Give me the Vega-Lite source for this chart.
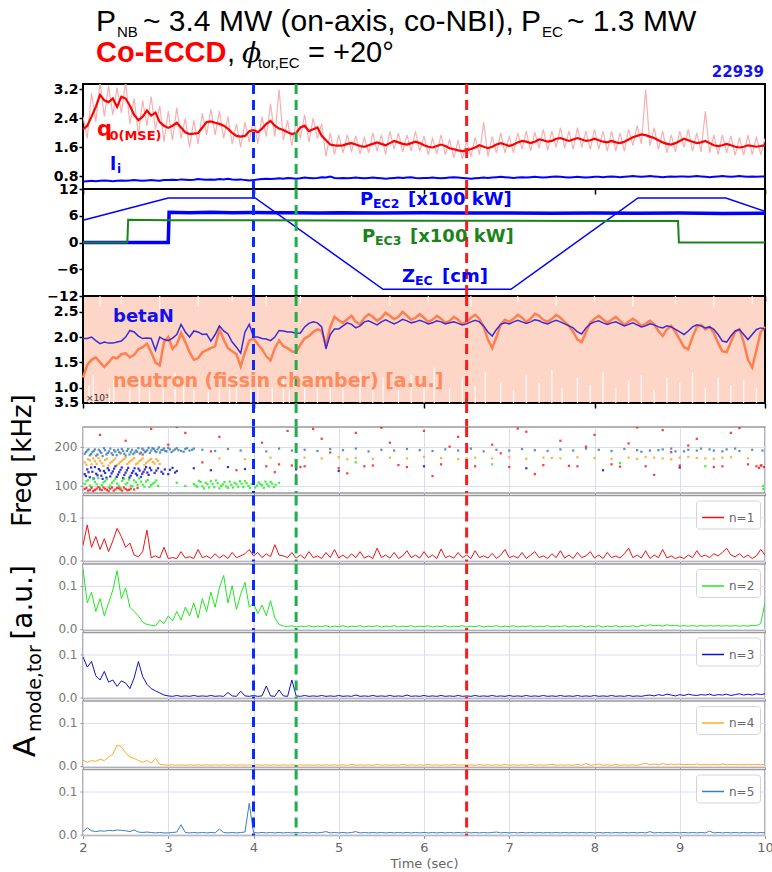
{
"$schema": "https://vega.github.io/schema/vega-lite/v6.json",
"background": "white",
"padding": {"left": 8, "right": 7, "top": 0, "bottom": 4},
"spacing": 0,
"bounds": "flush",
"config": {"font": "DejaVu Sans", "view": {"stroke": "#000", "strokeWidth": 2}, "axis": {"labelFlush": false, "labelOverlap": false, "tickCount": 20}},
"resolve": {"scale": {"x": "independent", "y": "independent", "color": "independent", "stroke": "independent"}, "legend": {"color": "independent"}},
"datasets": {
"vlines": [{"t":4.0,"c":"b"},{"t":4.5,"c":"g"},{"t":6.5,"c":"r"}],
"slow": [
{"t":2.00,"q":2.10,"r":2.45,"li":0.66,"bn":1.97,"ne":1.20},
{"t":2.05,"q":2.20,"r":1.85,"li":0.67,"bn":1.97,"ne":1.45},
{"t":2.10,"q":2.45,"r":3.10,"li":0.68,"bn":2.00,"ne":1.55},
{"t":2.15,"q":2.72,"r":2.30,"li":0.67,"bn":1.93,"ne":1.60},
{"t":2.20,"q":3.05,"r":3.40,"li":0.68,"bn":1.87,"ne":1.50},
{"t":2.25,"q":2.90,"r":2.45,"li":0.69,"bn":1.90,"ne":1.41},
{"t":2.30,"q":2.85,"r":3.30,"li":0.68,"bn":1.88,"ne":1.50},
{"t":2.35,"q":2.95,"r":2.50,"li":0.67,"bn":1.88,"ne":1.60},
{"t":2.40,"q":2.72,"r":3.25,"li":0.68,"bn":1.90,"ne":1.58},
{"t":2.45,"q":3.00,"r":2.55,"li":0.69,"bn":1.92,"ne":1.66},
{"t":2.50,"q":2.95,"r":3.40,"li":0.68,"bn":2.00,"ne":1.68},
{"t":2.55,"q":2.75,"r":2.25,"li":0.69,"bn":2.13,"ne":1.60},
{"t":2.60,"q":2.50,"r":2.95,"li":0.70,"bn":2.10,"ne":1.65},
{"t":2.65,"q":2.35,"r":1.95,"li":0.69,"bn":2.02,"ne":1.76},
{"t":2.70,"q":2.45,"r":2.90,"li":0.68,"bn":1.97,"ne":1.80},
{"t":2.75,"q":2.62,"r":2.20,"li":0.69,"bn":1.98,"ne":1.87},
{"t":2.80,"q":2.48,"r":3.00,"li":0.70,"bn":1.97,"ne":1.70},
{"t":2.85,"q":2.56,"r":2.10,"li":0.69,"bn":1.74,"ne":1.50},
{"t":2.90,"q":2.30,"r":2.75,"li":0.68,"bn":2.00,"ne":1.44},
{"t":2.95,"q":2.20,"r":1.75,"li":0.70,"bn":1.95,"ne":1.90},
{"t":3.00,"q":2.14,"r":2.60,"li":0.70,"bn":1.93,"ne":2.00},
{"t":3.05,"q":2.20,"r":1.80,"li":0.71,"bn":1.98,"ne":1.77},
{"t":3.10,"q":2.28,"r":2.70,"li":0.70,"bn":2.05,"ne":1.85},
{"t":3.15,"q":2.15,"r":1.85,"li":0.72,"bn":2.25,"ne":2.08},
{"t":3.20,"q":2.02,"r":2.40,"li":0.71,"bn":2.10,"ne":1.90},
{"t":3.25,"q":1.97,"r":1.60,"li":0.70,"bn":2.00,"ne":1.70},
{"t":3.30,"q":1.98,"r":2.35,"li":0.71,"bn":2.12,"ne":1.55},
{"t":3.35,"q":2.00,"r":1.70,"li":0.73,"bn":2.10,"ne":1.58},
{"t":3.40,"q":2.15,"r":2.55,"li":0.72,"bn":2.05,"ne":1.70},
{"t":3.45,"q":2.30,"r":1.95,"li":0.71,"bn":2.06,"ne":1.74},
{"t":3.50,"q":2.32,"r":2.65,"li":0.72,"bn":1.92,"ne":1.78},
{"t":3.55,"q":2.28,"r":1.95,"li":0.71,"bn":2.05,"ne":1.82},
{"t":3.60,"q":2.25,"r":2.60,"li":0.73,"bn":2.22,"ne":2.15},
{"t":3.65,"q":2.20,"r":1.85,"li":0.72,"bn":2.12,"ne":1.95},
{"t":3.70,"q":2.12,"r":2.45,"li":0.74,"bn":2.06,"ne":1.78},
{"t":3.75,"q":2.00,"r":1.70,"li":0.72,"bn":1.90,"ne":1.72},
{"t":3.80,"q":1.92,"r":2.25,"li":0.71,"bn":1.80,"ne":1.66},
{"t":3.85,"q":1.90,"r":1.60,"li":0.72,"bn":1.68,"ne":1.42},
{"t":3.90,"q":1.92,"r":2.30,"li":0.70,"bn":2.10,"ne":1.70},
{"t":3.95,"q":2.05,"r":1.75,"li":0.69,"bn":2.25,"ne":1.93},
{"t":4.00,"q":2.08,"r":2.40,"li":0.70,"bn":2.00,"ne":1.97},
{"t":4.05,"q":2.02,"r":1.70,"li":0.72,"bn":2.00,"ne":1.86},
{"t":4.10,"q":2.12,"r":2.45,"li":0.73,"bn":1.97,"ne":1.76},
{"t":4.15,"q":2.25,"r":1.90,"li":0.74,"bn":1.96,"ne":1.62},
{"t":4.20,"q":2.33,"r":2.80,"li":0.73,"bn":1.93,"ne":1.54},
{"t":4.25,"q":2.20,"r":1.90,"li":0.74,"bn":2.00,"ne":1.78},
{"t":4.30,"q":2.12,"r":3.20,"li":0.75,"bn":2.13,"ne":1.93},
{"t":4.35,"q":2.08,"r":1.80,"li":0.74,"bn":2.12,"ne":1.82},
{"t":4.40,"q":2.02,"r":2.35,"li":0.76,"bn":2.10,"ne":1.78},
{"t":4.45,"q":1.97,"r":1.65,"li":0.75,"bn":2.10,"ne":1.72},
{"t":4.50,"q":2.00,"r":2.30,"li":0.74,"bn":2.07,"ne":1.70},
{"t":4.55,"q":2.15,"r":1.85,"li":0.75,"bn":2.08,"ne":1.85},
{"t":4.60,"q":2.20,"r":2.50,"li":0.77,"bn":2.20,"ne":1.97},
{"t":4.65,"q":2.05,"r":1.75,"li":0.76,"bn":2.27,"ne":2.02},
{"t":4.70,"q":2.10,"r":2.40,"li":0.75,"bn":2.30,"ne":2.10},
{"t":4.75,"q":2.15,"r":1.85,"li":0.76,"bn":2.28,"ne":2.15},
{"t":4.80,"q":1.92,"r":2.25,"li":0.78,"bn":2.20,"ne":2.12},
{"t":4.85,"q":1.80,"r":1.35,"li":0.77,"bn":1.77,"ne":1.83},
{"t":4.90,"q":1.68,"r":2.00,"li":0.80,"bn":2.05,"ne":2.20},
{"t":4.95,"q":1.66,"r":1.40,"li":0.76,"bn":2.16,"ne":2.40},
{"t":5.00,"q":1.65,"r":1.95,"li":0.75,"bn":2.16,"ne":2.33},
{"t":5.05,"q":1.66,"r":1.45,"li":0.76,"bn":2.22,"ne":2.28},
{"t":5.10,"q":1.70,"r":1.95,"li":0.75,"bn":2.28,"ne":2.35},
{"t":5.15,"q":1.72,"r":1.50,"li":0.76,"bn":2.25,"ne":2.42},
{"t":5.20,"q":1.68,"r":1.92,"li":0.77,"bn":2.18,"ne":2.30},
{"t":5.25,"q":1.64,"r":1.42,"li":0.76,"bn":2.22,"ne":2.25},
{"t":5.30,"q":1.62,"r":1.88,"li":0.75,"bn":2.30,"ne":2.38},
{"t":5.35,"q":1.66,"r":1.45,"li":0.76,"bn":2.32,"ne":2.45},
{"t":5.40,"q":1.70,"r":2.00,"li":0.77,"bn":2.28,"ne":2.40},
{"t":5.45,"q":1.74,"r":1.50,"li":0.76,"bn":2.24,"ne":2.32},
{"t":5.50,"q":1.70,"r":1.95,"li":0.75,"bn":2.30,"ne":2.38},
{"t":5.55,"q":1.66,"r":1.40,"li":0.74,"bn":2.34,"ne":2.48},
{"t":5.60,"q":1.72,"r":2.05,"li":0.75,"bn":2.30,"ne":2.42},
{"t":5.65,"q":1.78,"r":1.55,"li":0.76,"bn":2.26,"ne":2.35},
{"t":5.70,"q":1.74,"r":2.00,"li":0.77,"bn":2.30,"ne":2.40},
{"t":5.75,"q":1.70,"r":1.48,"li":0.76,"bn":2.35,"ne":2.50},
{"t":5.80,"q":1.68,"r":1.95,"li":0.77,"bn":2.32,"ne":2.42},
{"t":5.85,"q":1.72,"r":1.50,"li":0.78,"bn":2.28,"ne":2.34},
{"t":5.90,"q":1.76,"r":2.05,"li":0.76,"bn":2.30,"ne":2.38},
{"t":5.95,"q":1.72,"r":1.50,"li":0.75,"bn":2.33,"ne":2.45},
{"t":6.00,"q":1.66,"r":1.92,"li":0.76,"bn":2.30,"ne":2.38},
{"t":6.05,"q":1.62,"r":1.40,"li":0.76,"bn":2.26,"ne":2.30},
{"t":6.10,"q":1.60,"r":1.85,"li":0.77,"bn":2.28,"ne":2.34},
{"t":6.15,"q":1.64,"r":1.42,"li":0.76,"bn":2.32,"ne":2.42},
{"t":6.20,"q":1.68,"r":1.95,"li":0.75,"bn":2.30,"ne":2.36},
{"t":6.25,"q":1.64,"r":1.40,"li":0.76,"bn":2.26,"ne":2.28},
{"t":6.30,"q":1.58,"r":1.82,"li":0.77,"bn":2.28,"ne":2.32},
{"t":6.35,"q":1.55,"r":1.32,"li":0.78,"bn":2.30,"ne":2.40},
{"t":6.40,"q":1.52,"r":1.80,"li":0.77,"bn":2.27,"ne":2.34},
{"t":6.45,"q":1.50,"r":1.28,"li":0.76,"bn":2.24,"ne":2.26},
{"t":6.50,"q":1.52,"r":1.78,"li":0.75,"bn":2.26,"ne":2.30},
{"t":6.55,"q":1.56,"r":1.35,"li":0.74,"bn":2.30,"ne":2.38},
{"t":6.60,"q":1.60,"r":1.88,"li":0.75,"bn":2.33,"ne":2.44},
{"t":6.65,"q":1.66,"r":1.40,"li":0.76,"bn":2.30,"ne":2.36},
{"t":6.70,"q":1.62,"r":2.30,"li":0.77,"bn":2.22,"ne":2.20},
{"t":6.75,"q":1.58,"r":1.35,"li":0.76,"bn":2.10,"ne":1.95},
{"t":6.80,"q":1.62,"r":1.90,"li":0.77,"bn":2.02,"ne":1.78},
{"t":6.85,"q":1.68,"r":1.45,"li":0.78,"bn":2.15,"ne":2.00},
{"t":6.90,"q":1.72,"r":2.00,"li":0.79,"bn":2.25,"ne":2.25},
{"t":6.95,"q":1.68,"r":1.45,"li":0.78,"bn":2.28,"ne":2.34},
{"t":7.00,"q":1.64,"r":1.90,"li":0.77,"bn":2.26,"ne":2.30},
{"t":7.05,"q":1.68,"r":1.45,"li":0.76,"bn":2.30,"ne":2.36},
{"t":7.10,"q":1.74,"r":2.00,"li":0.77,"bn":2.33,"ne":2.44},
{"t":7.15,"q":1.78,"r":1.55,"li":0.78,"bn":2.30,"ne":2.38},
{"t":7.20,"q":1.76,"r":2.05,"li":0.77,"bn":2.27,"ne":2.30},
{"t":7.25,"q":1.72,"r":1.50,"li":0.78,"bn":2.30,"ne":2.36},
{"t":7.30,"q":1.76,"r":2.02,"li":0.79,"bn":2.34,"ne":2.46},
{"t":7.35,"q":1.82,"r":1.58,"li":0.78,"bn":2.32,"ne":2.42},
{"t":7.40,"q":1.80,"r":2.10,"li":0.77,"bn":2.28,"ne":2.34},
{"t":7.45,"q":1.76,"r":1.52,"li":0.78,"bn":2.26,"ne":2.30},
{"t":7.50,"q":1.78,"r":2.05,"li":0.79,"bn":2.30,"ne":2.36},
{"t":7.55,"q":1.84,"r":1.60,"li":0.80,"bn":2.33,"ne":2.44},
{"t":7.60,"q":1.86,"r":2.15,"li":0.79,"bn":2.30,"ne":2.38},
{"t":7.65,"q":1.82,"r":1.58,"li":0.78,"bn":2.26,"ne":2.30},
{"t":7.70,"q":1.78,"r":2.05,"li":0.77,"bn":2.22,"ne":2.22},
{"t":7.75,"q":1.82,"r":1.55,"li":0.78,"bn":2.18,"ne":2.10},
{"t":7.80,"q":1.86,"r":2.15,"li":0.79,"bn":2.10,"ne":1.95},
{"t":7.85,"q":1.82,"r":1.60,"li":0.78,"bn":2.06,"ne":1.90},
{"t":7.90,"q":1.78,"r":2.05,"li":0.77,"bn":2.18,"ne":2.10},
{"t":7.95,"q":1.80,"r":1.55,"li":0.78,"bn":2.26,"ne":2.28},
{"t":8.00,"q":1.84,"r":2.10,"li":0.79,"bn":2.30,"ne":2.36},
{"t":8.05,"q":1.80,"r":1.55,"li":0.79,"bn":2.32,"ne":2.42},
{"t":8.10,"q":1.76,"r":2.05,"li":0.78,"bn":2.28,"ne":2.35},
{"t":8.15,"q":1.74,"r":1.50,"li":0.79,"bn":2.25,"ne":2.28},
{"t":8.20,"q":1.78,"r":2.05,"li":0.80,"bn":2.28,"ne":2.34},
{"t":8.25,"q":1.74,"r":1.50,"li":0.79,"bn":2.30,"ne":2.40},
{"t":8.30,"q":1.72,"r":2.00,"li":0.78,"bn":2.26,"ne":2.32},
{"t":8.35,"q":1.76,"r":1.50,"li":0.79,"bn":2.22,"ne":2.24},
{"t":8.40,"q":1.82,"r":2.10,"li":0.80,"bn":2.25,"ne":2.30},
{"t":8.45,"q":1.88,"r":1.65,"li":0.81,"bn":2.28,"ne":2.36},
{"t":8.50,"q":1.92,"r":2.20,"li":0.80,"bn":2.24,"ne":2.30},
{"t":8.55,"q":1.96,"r":1.70,"li":0.79,"bn":2.20,"ne":2.22},
{"t":8.60,"q":1.94,"r":3.20,"li":0.80,"bn":2.22,"ne":2.26},
{"t":8.65,"q":1.90,"r":1.65,"li":0.81,"bn":2.26,"ne":2.32},
{"t":8.70,"q":1.86,"r":2.15,"li":0.80,"bn":2.24,"ne":2.25},
{"t":8.75,"q":1.80,"r":1.55,"li":0.79,"bn":2.20,"ne":2.12},
{"t":8.80,"q":1.74,"r":2.05,"li":0.78,"bn":2.18,"ne":2.02},
{"t":8.85,"q":1.70,"r":1.45,"li":0.79,"bn":2.22,"ne":2.15},
{"t":8.90,"q":1.68,"r":1.95,"li":0.80,"bn":2.20,"ne":2.22},
{"t":8.95,"q":1.72,"r":1.48,"li":0.79,"bn":2.15,"ne":2.10},
{"t":9.00,"q":1.78,"r":2.05,"li":0.80,"bn":2.10,"ne":1.95},
{"t":9.05,"q":1.84,"r":1.60,"li":0.80,"bn":2.05,"ne":1.80},
{"t":9.10,"q":1.80,"r":2.10,"li":0.79,"bn":2.12,"ne":1.76},
{"t":9.15,"q":1.76,"r":1.50,"li":0.80,"bn":2.20,"ne":2.00},
{"t":9.20,"q":1.72,"r":2.00,"li":0.81,"bn":2.24,"ne":2.20},
{"t":9.25,"q":1.74,"r":1.48,"li":0.80,"bn":2.22,"ne":2.24},
{"t":9.30,"q":1.78,"r":2.60,"li":0.79,"bn":2.18,"ne":2.15},
{"t":9.35,"q":1.72,"r":1.45,"li":0.78,"bn":2.20,"ne":2.20},
{"t":9.40,"q":1.66,"r":1.95,"li":0.79,"bn":2.15,"ne":2.08},
{"t":9.45,"q":1.64,"r":1.40,"li":0.80,"bn":2.05,"ne":1.88},
{"t":9.50,"q":1.66,"r":1.95,"li":0.81,"bn":1.92,"ne":1.72},
{"t":9.55,"q":1.70,"r":1.45,"li":0.80,"bn":1.90,"ne":1.70},
{"t":9.60,"q":1.66,"r":1.92,"li":0.79,"bn":2.02,"ne":1.90},
{"t":9.65,"q":1.62,"r":1.38,"li":0.80,"bn":2.12,"ne":2.10},
{"t":9.70,"q":1.60,"r":1.88,"li":0.81,"bn":2.15,"ne":2.15},
{"t":9.75,"q":1.62,"r":1.38,"li":0.80,"bn":2.05,"ne":1.90},
{"t":9.80,"q":1.66,"r":1.95,"li":0.79,"bn":1.95,"ne":1.55},
{"t":9.85,"q":1.64,"r":1.40,"li":0.80,"bn":2.05,"ne":1.40},
{"t":9.90,"q":1.62,"r":1.90,"li":0.79,"bn":2.15,"ne":1.75},
{"t":9.95,"q":1.64,"r":1.40,"li":0.80,"bn":2.18,"ne":2.10},
{"t":10.00,"q":1.66,"r":1.85,"li":0.80,"bn":2.16,"ne":2.20}
],
"zec": [{"t":2.0,"v":5.0},{"t":3.0,"v":10.0},{"t":4.02,"v":10.0},{"t":5.52,"v":-10.5},{"t":7.02,"v":-10.5},{"t":8.51,"v":10.0},{"t":9.54,"v":10.0},{"t":10.0,"v":7.0}],
"pec2": [{"t":2.0,"v":0},{"t":3.0,"v":0},{"t":3.01,"v":6.8},{"t":3.25,"v":6.7},{"t":3.5,"v":6.8},{"t":3.75,"v":6.7},{"t":4.0,"v":6.75},{"t":4.25,"v":6.65},{"t":4.5,"v":6.7},{"t":4.75,"v":6.6},{"t":5.0,"v":6.7},{"t":5.5,"v":6.6},{"t":6.0,"v":6.65},{"t":6.5,"v":6.6},{"t":7.0,"v":6.6},{"t":7.5,"v":6.55},{"t":8.0,"v":6.6},{"t":8.5,"v":6.55},{"t":9.0,"v":6.6},{"t":9.5,"v":6.5},{"t":10.0,"v":6.55}],
"pec3": [{"t":2.0,"v":0},{"t":2.52,"v":0},{"t":2.53,"v":5.1},{"t":3.0,"v":5.0},{"t":4.0,"v":5.0},{"t":5.0,"v":4.95},{"t":6.0,"v":4.9},{"t":7.0,"v":4.9},{"t":8.0,"v":4.85},{"t":8.98,"v":4.8},{"t":8.99,"v":0},{"t":10.0,"v":0}],
"gaps": [
{"t":2.07,"a":0.7,"b":1.05},{"t":2.12,"a":0.7,"b":1.25},{"t":2.31,"a":0.7,"b":1.0},{"t":2.36,"a":0.7,"b":1.15},{"t":2.55,"a":0.7,"b":0.95},{"t":2.66,"a":0.7,"b":1.2},{"t":2.78,"a":0.7,"b":1.1},{"t":2.94,"a":0.7,"b":1.0},{"t":3.08,"a":0.7,"b":1.3},{"t":3.18,"a":0.7,"b":1.05},{"t":3.3,"a":0.7,"b":0.95},{"t":3.47,"a":0.7,"b":1.2},{"t":3.6,"a":0.7,"b":1.0},{"t":3.72,"a":0.7,"b":1.1},{"t":3.8,"a":0.7,"b":1.25},{"t":3.97,"a":0.7,"b":1.0},{"t":4.05,"a":0.7,"b":1.15},{"t":4.22,"a":0.7,"b":1.0},{"t":4.35,"a":0.7,"b":1.2},{"t":4.42,"a":0.7,"b":0.95},{"t":4.6,"a":0.7,"b":1.1},{"t":4.75,"a":0.7,"b":1.3},{"t":4.9,"a":0.7,"b":1.0},{"t":5.05,"a":0.7,"b":1.15},{"t":5.25,"a":0.7,"b":1.3},{"t":5.4,"a":0.7,"b":1.05},{"t":5.52,"a":0.7,"b":1.2},{"t":5.7,"a":0.7,"b":0.95},{"t":5.85,"a":0.7,"b":1.25},{"t":6.0,"a":0.7,"b":1.1},{"t":6.12,"a":0.7,"b":1.4},{"t":6.3,"a":0.7,"b":1.0},{"t":6.45,"a":0.7,"b":1.2},{"t":6.6,"a":0.7,"b":1.05},{"t":6.72,"a":0.7,"b":1.3},{"t":6.9,"a":0.7,"b":1.1},{"t":7.05,"a":0.7,"b":0.95},{"t":7.2,"a":0.7,"b":1.25},{"t":7.35,"a":0.7,"b":1.1},{"t":7.5,"a":0.7,"b":1.35},{"t":7.62,"a":0.7,"b":1.0},{"t":7.8,"a":0.7,"b":1.2},{"t":7.95,"a":0.7,"b":1.05},{"t":8.1,"a":0.7,"b":1.3},{"t":8.25,"a":0.7,"b":1.0},{"t":8.4,"a":0.7,"b":1.15},{"t":8.55,"a":0.7,"b":1.25},{"t":8.7,"a":0.7,"b":0.95},{"t":8.85,"a":0.7,"b":1.2},{"t":9.0,"a":0.7,"b":1.1},{"t":9.15,"a":0.7,"b":1.3},{"t":9.3,"a":0.7,"b":1.0},{"t":9.45,"a":0.7,"b":1.2},{"t":9.6,"a":0.7,"b":1.05},{"t":9.75,"a":0.7,"b":1.15},{"t":9.9,"a":0.7,"b":1.0},
{"t":2.2,"a":2.6,"b":2.81},{"t":2.45,"a":2.65,"b":2.81},{"t":2.9,"a":2.55,"b":2.81},{"t":3.35,"a":2.6,"b":2.81},{"t":3.75,"a":2.7,"b":2.81},{"t":4.15,"a":2.6,"b":2.81},{"t":4.55,"a":2.65,"b":2.81},{"t":5.15,"a":2.7,"b":2.81},{"t":5.6,"a":2.62,"b":2.81},{"t":6.05,"a":2.7,"b":2.81},{"t":6.55,"a":2.6,"b":2.81},{"t":7.1,"a":2.68,"b":2.81},{"t":7.55,"a":2.62,"b":2.81},{"t":8.0,"a":2.7,"b":2.81},{"t":8.45,"a":2.6,"b":2.81},{"t":8.95,"a":2.66,"b":2.81},{"t":9.4,"a":2.58,"b":2.81},{"t":9.85,"a":2.65,"b":2.81}
],
"spec": [
{"t":2.02,"f":182,"m":5},{"t":2.05,"f":190,"m":5},{"t":2.08,"f":178,"m":5},{"t":2.11,"f":186,"m":5},{"t":2.14,"f":193,"m":5},{"t":2.17,"f":180,"m":5},{"t":2.20,"f":188,"m":5},{"t":2.23,"f":176,"m":5},{"t":2.26,"f":191,"m":5},{"t":2.29,"f":184,"m":5},{"t":2.32,"f":195,"m":5},{"t":2.35,"f":179,"m":5},{"t":2.38,"f":187,"m":5},{"t":2.41,"f":192,"m":5},{"t":2.44,"f":183,"m":5},{"t":2.47,"f":189,"m":5},{"t":2.50,"f":177,"m":5},{"t":2.53,"f":194,"m":5},{"t":2.56,"f":186,"m":5},{"t":2.59,"f":181,"m":5},{"t":2.62,"f":190,"m":5},{"t":2.65,"f":196,"m":5},{"t":2.68,"f":185,"m":5},{"t":2.71,"f":192,"m":5},{"t":2.74,"f":188,"m":5},{"t":2.77,"f":197,"m":5},{"t":2.80,"f":190,"m":5},{"t":2.83,"f":194,"m":5},{"t":2.86,"f":186,"m":5},{"t":2.89,"f":198,"m":5},{"t":2.92,"f":191,"m":5},{"t":2.95,"f":195,"m":5},{"t":2.98,"f":188,"m":5},{"t":3.02,"f":193,"m":5},{"t":3.06,"f":190,"m":5},{"t":3.10,"f":196,"m":5},{"t":3.15,"f":189,"m":5},{"t":3.20,"f":194,"m":5},{"t":3.25,"f":190,"m":5},{"t":3.30,"f":195,"m":5},
{"t":2.035,"f":186,"m":5},{"t":2.065,"f":193,"m":5},{"t":2.095,"f":181,"m":5},{"t":2.125,"f":189,"m":5},{"t":2.155,"f":177,"m":5},{"t":2.185,"f":192,"m":5},{"t":2.215,"f":184,"m":5},{"t":2.245,"f":196,"m":5},{"t":2.275,"f":180,"m":5},{"t":2.305,"f":188,"m":5},{"t":2.335,"f":183,"m":5},{"t":2.365,"f":191,"m":5},{"t":2.395,"f":178,"m":5},{"t":2.425,"f":186,"m":5},{"t":2.455,"f":194,"m":5},{"t":2.485,"f":182,"m":5},{"t":2.515,"f":189,"m":5},{"t":2.545,"f":180,"m":5},{"t":2.575,"f":192,"m":5},{"t":2.605,"f":185,"m":5},{"t":2.635,"f":187,"m":5},{"t":2.665,"f":182,"m":5},{"t":2.695,"f":195,"m":5},{"t":2.725,"f":186,"m":5},{"t":2.755,"f":191,"m":5},{"t":2.785,"f":184,"m":5},{"t":2.815,"f":196,"m":5},{"t":2.845,"f":189,"m":5},{"t":2.875,"f":193,"m":5},{"t":2.905,"f":185,"m":5},{"t":2.935,"f":192,"m":5},{"t":2.965,"f":189,"m":5},{"t":3.00,"f":197,"m":5},{"t":3.04,"f":186,"m":5},{"t":3.08,"f":193,"m":5},{"t":3.12,"f":191,"m":5},{"t":3.18,"f":187,"m":5},{"t":3.22,"f":196,"m":5},{"t":3.28,"f":192,"m":5},
{"t":3.40,"f":192,"m":5},{"t":3.55,"f":189,"m":5},{"t":3.70,"f":194,"m":5},{"t":3.85,"f":190,"m":5},{"t":4.00,"f":193,"m":5},{"t":4.15,"f":188,"m":5},{"t":4.30,"f":195,"m":5},{"t":4.45,"f":190,"m":5},{"t":4.60,"f":192,"m":5},{"t":4.75,"f":189,"m":5},{"t":4.90,"f":194,"m":5},{"t":5.05,"f":191,"m":5},{"t":5.20,"f":195,"m":5},{"t":5.35,"f":188,"m":5},{"t":5.50,"f":192,"m":5},{"t":5.65,"f":190,"m":5},{"t":5.80,"f":194,"m":5},{"t":5.95,"f":191,"m":5},{"t":6.10,"f":189,"m":5},{"t":6.25,"f":193,"m":5},{"t":6.40,"f":190,"m":5},{"t":6.55,"f":195,"m":5},{"t":6.70,"f":188,"m":5},{"t":6.85,"f":192,"m":5},{"t":7.00,"f":190,"m":5},{"t":7.15,"f":194,"m":5},{"t":7.30,"f":191,"m":5},{"t":7.45,"f":189,"m":5},{"t":7.60,"f":193,"m":5},{"t":7.75,"f":190,"m":5},{"t":7.90,"f":195,"m":5},{"t":8.05,"f":192,"m":5},{"t":8.20,"f":189,"m":5},{"t":8.35,"f":194,"m":5},{"t":8.50,"f":191,"m":5},{"t":8.65,"f":190,"m":5},{"t":8.80,"f":193,"m":5},{"t":8.95,"f":188,"m":5},{"t":9.10,"f":192,"m":5},{"t":9.25,"f":195,"m":5},{"t":9.40,"f":190,"m":5},{"t":9.55,"f":193,"m":5},{"t":9.70,"f":189,"m":5},{"t":9.85,"f":192,"m":5},{"t":9.97,"f":190,"m":5},{"t":8.55,"f":187,"m":5},{"t":8.75,"f":191,"m":5},{"t":8.90,"f":195,"m":5},{"t":9.05,"f":188,"m":5},{"t":9.20,"f":190,"m":5},{"t":9.35,"f":193,"m":5},{"t":9.50,"f":188,"m":5},{"t":9.65,"f":195,"m":5},
{"t":2.02,"f":160,"m":4},{"t":2.06,"f":168,"m":4},{"t":2.10,"f":155,"m":4},{"t":2.14,"f":163,"m":4},{"t":2.18,"f":171,"m":4},{"t":2.22,"f":158,"m":4},{"t":2.26,"f":166,"m":4},{"t":2.30,"f":152,"m":4},{"t":2.34,"f":162,"m":4},{"t":2.38,"f":170,"m":4},{"t":2.42,"f":157,"m":4},{"t":2.46,"f":165,"m":4},{"t":2.50,"f":172,"m":4},{"t":2.54,"f":160,"m":4},{"t":2.58,"f":167,"m":4},{"t":2.62,"f":155,"m":4},{"t":2.66,"f":163,"m":4},{"t":2.70,"f":170,"m":4},{"t":2.74,"f":158,"m":4},{"t":2.78,"f":166,"m":4},{"t":2.82,"f":161,"m":4},{"t":2.86,"f":168,"m":4},{"t":2.90,"f":156,"m":4},
{"t":2.04,"f":154,"m":4},{"t":2.08,"f":165,"m":4},{"t":2.12,"f":170,"m":4},{"t":2.16,"f":156,"m":4},{"t":2.20,"f":164,"m":4},{"t":2.24,"f":151,"m":4},{"t":2.28,"f":169,"m":4},{"t":2.32,"f":159,"m":4},{"t":2.36,"f":166,"m":4},{"t":2.40,"f":153,"m":4},{"t":2.44,"f":161,"m":4},{"t":2.48,"f":168,"m":4},{"t":2.52,"f":156,"m":4},{"t":2.56,"f":164,"m":4},{"t":2.60,"f":171,"m":4},{"t":2.64,"f":158,"m":4},{"t":2.68,"f":166,"m":4},{"t":2.72,"f":153,"m":4},{"t":2.76,"f":162,"m":4},{"t":2.80,"f":169,"m":4},{"t":2.84,"f":157,"m":4},{"t":2.88,"f":164,"m":4},
{"t":3.6,"f":170,"m":4},{"t":3.9,"f":168,"m":4},{"t":4.2,"f":172,"m":4},{"t":4.6,"f":172,"m":4},{"t":4.8,"f":170,"m":4},{"t":5.0,"f":173,"m":4},{"t":5.2,"f":171,"m":4},{"t":5.4,"f":169,"m":4},{"t":5.6,"f":172,"m":4},{"t":5.8,"f":170,"m":4},{"t":6.0,"f":174,"m":4},{"t":6.2,"f":171,"m":4},{"t":6.4,"f":168,"m":4},{"t":6.6,"f":172,"m":4},{"t":6.8,"f":170,"m":4},{"t":7.0,"f":173,"m":4},{"t":7.2,"f":169,"m":4},{"t":7.4,"f":172,"m":4},{"t":7.6,"f":170,"m":4},{"t":7.8,"f":173,"m":4},{"t":8.0,"f":171,"m":4},{"t":8.2,"f":169,"m":4},{"t":8.4,"f":172,"m":4},{"t":8.6,"f":174,"m":4},{"t":8.8,"f":170,"m":4},{"t":9.0,"f":172,"m":4},{"t":9.2,"f":171,"m":4},{"t":9.4,"f":169,"m":4},{"t":9.6,"f":173,"m":4},{"t":9.8,"f":170,"m":4},{"t":5.1,"f":168,"m":4},{"t":6.5,"f":170,"m":4},{"t":7.5,"f":171,"m":4},{"t":8.5,"f":169,"m":4},{"t":8.7,"f":172,"m":4},{"t":8.9,"f":168,"m":4},{"t":9.1,"f":174,"m":4},{"t":9.3,"f":170,"m":4},{"t":9.5,"f":172,"m":4},
{"t":2.02,"f":130,"m":3},{"t":2.05,"f":142,"m":3},{"t":2.08,"f":122,"m":3},{"t":2.11,"f":136,"m":3},{"t":2.14,"f":148,"m":3},{"t":2.17,"f":127,"m":3},{"t":2.20,"f":139,"m":3},{"t":2.23,"f":118,"m":3},{"t":2.26,"f":133,"m":3},{"t":2.29,"f":145,"m":3},{"t":2.32,"f":124,"m":3},{"t":2.35,"f":137,"m":3},{"t":2.38,"f":150,"m":3},{"t":2.41,"f":129,"m":3},{"t":2.44,"f":141,"m":3},{"t":2.47,"f":120,"m":3},{"t":2.50,"f":134,"m":3},{"t":2.53,"f":146,"m":3},{"t":2.56,"f":126,"m":3},{"t":2.59,"f":138,"m":3},{"t":2.62,"f":131,"m":3},{"t":2.65,"f":144,"m":3},{"t":2.68,"f":123,"m":3},{"t":2.71,"f":136,"m":3},{"t":2.74,"f":148,"m":3},{"t":2.77,"f":128,"m":3},{"t":2.80,"f":140,"m":3},{"t":2.84,"f":133,"m":3},{"t":2.88,"f":145,"m":3},{"t":2.92,"f":136,"m":3},{"t":2.96,"f":142,"m":3},{"t":3.00,"f":130,"m":3},{"t":3.05,"f":146,"m":3},{"t":3.10,"f":138,"m":3},
{"t":2.035,"f":125,"m":3},{"t":2.065,"f":135,"m":3},{"t":2.095,"f":147,"m":3},{"t":2.125,"f":119,"m":3},{"t":2.155,"f":131,"m":3},{"t":2.185,"f":143,"m":3},{"t":2.215,"f":126,"m":3},{"t":2.245,"f":138,"m":3},{"t":2.275,"f":121,"m":3},{"t":2.305,"f":140,"m":3},{"t":2.335,"f":132,"m":3},{"t":2.365,"f":144,"m":3},{"t":2.395,"f":123,"m":3},{"t":2.425,"f":135,"m":3},{"t":2.455,"f":147,"m":3},{"t":2.485,"f":128,"m":3},{"t":2.515,"f":140,"m":3},{"t":2.545,"f":121,"m":3},{"t":2.575,"f":133,"m":3},{"t":2.605,"f":145,"m":3},{"t":2.635,"f":127,"m":3},{"t":2.665,"f":139,"m":3},{"t":2.695,"f":131,"m":3},{"t":2.725,"f":142,"m":3},{"t":2.755,"f":134,"m":3},{"t":2.785,"f":146,"m":3},{"t":2.86,"f":139,"m":3},{"t":2.94,"f":131,"m":3},{"t":3.02,"f":141,"m":3},{"t":3.08,"f":134,"m":3},
{"t":3.3,"f":145,"m":3},{"t":3.5,"f":140,"m":3},{"t":3.7,"f":148,"m":3},{"t":3.9,"f":143,"m":3},{"t":4.5,"f":142,"m":3},{"t":5.0,"f":138,"m":3},{"t":6.0,"f":150,"m":3},{"t":7.2,"f":145,"m":3},{"t":8.1,"f":140,"m":3},{"t":9.0,"f":147,"m":3},
{"t":2.02,"f":105,"m":2},{"t":2.06,"f":115,"m":2},{"t":2.10,"f":98,"m":2},{"t":2.14,"f":110,"m":2},{"t":2.18,"f":120,"m":2},{"t":2.22,"f":102,"m":2},{"t":2.26,"f":112,"m":2},{"t":2.30,"f":96,"m":2},{"t":2.34,"f":108,"m":2},{"t":2.38,"f":118,"m":2},{"t":2.42,"f":100,"m":2},{"t":2.46,"f":113,"m":2},{"t":2.50,"f":104,"m":2},{"t":2.54,"f":116,"m":2},{"t":2.58,"f":99,"m":2},{"t":2.62,"f":109,"m":2},{"t":2.66,"f":119,"m":2},{"t":2.70,"f":103,"m":2},{"t":2.74,"f":111,"m":2},{"t":2.78,"f":97,"m":2},{"t":2.82,"f":106,"m":2},{"t":2.86,"f":114,"m":2},
{"t":2.04,"f":112,"m":2},{"t":2.08,"f":101,"m":2},{"t":2.12,"f":117,"m":2},{"t":2.16,"f":104,"m":2},{"t":2.20,"f":95,"m":2},{"t":2.24,"f":109,"m":2},{"t":2.28,"f":117,"m":2},{"t":2.32,"f":101,"m":2},{"t":2.36,"f":113,"m":2},{"t":2.40,"f":106,"m":2},{"t":2.44,"f":96,"m":2},{"t":2.48,"f":118,"m":2},{"t":2.52,"f":108,"m":2},{"t":2.56,"f":100,"m":2},{"t":2.60,"f":114,"m":2},{"t":2.64,"f":103,"m":2},{"t":2.68,"f":111,"m":2},{"t":2.72,"f":98,"m":2},{"t":2.76,"f":115,"m":2},{"t":2.80,"f":102,"m":2},{"t":2.84,"f":109,"m":2},{"t":2.88,"f":100,"m":2},
{"t":3.30,"f":105,"m":2},{"t":3.34,"f":98,"m":2},{"t":3.38,"f":110,"m":2},{"t":3.42,"f":94,"m":2},{"t":3.46,"f":104,"m":2},{"t":3.50,"f":112,"m":2},{"t":3.54,"f":97,"m":2},{"t":3.58,"f":107,"m":2},{"t":3.62,"f":100,"m":2},{"t":3.66,"f":110,"m":2},{"t":3.70,"f":95,"m":2},{"t":3.74,"f":103,"m":2},{"t":3.78,"f":108,"m":2},{"t":3.82,"f":98,"m":2},{"t":3.86,"f":106,"m":2},{"t":3.90,"f":112,"m":2},{"t":3.94,"f":100,"m":2},{"t":3.98,"f":105,"m":2},{"t":4.02,"f":96,"m":2},{"t":4.06,"f":109,"m":2},{"t":4.10,"f":102,"m":2},{"t":4.14,"f":111,"m":2},{"t":4.18,"f":99,"m":2},{"t":4.22,"f":106,"m":2},{"t":4.26,"f":103,"m":2},{"t":4.30,"f":108,"m":2},
{"t":3.32,"f":101,"m":2},{"t":3.36,"f":113,"m":2},{"t":3.40,"f":99,"m":2},{"t":3.44,"f":108,"m":2},{"t":3.48,"f":96,"m":2},{"t":3.52,"f":105,"m":2},{"t":3.56,"f":114,"m":2},{"t":3.60,"f":94,"m":2},{"t":3.64,"f":104,"m":2},{"t":3.68,"f":99,"m":2},{"t":3.72,"f":111,"m":2},{"t":3.76,"f":96,"m":2},{"t":3.80,"f":104,"m":2},{"t":3.84,"f":112,"m":2},{"t":3.88,"f":97,"m":2},{"t":3.92,"f":107,"m":2},{"t":3.96,"f":95,"m":2},{"t":4.00,"f":110,"m":2},{"t":4.04,"f":101,"m":2},{"t":4.08,"f":105,"m":2},{"t":4.12,"f":95,"m":2},{"t":4.16,"f":104,"m":2},{"t":4.20,"f":110,"m":2},{"t":4.24,"f":97,"m":2},
{"t":5.2,"f":160,"m":2},{"t":6.8,"f":155,"m":2},{"t":8.3,"f":158,"m":2},{"t":9.3,"f":150,"m":2},{"t":9.98,"f":92,"m":2},{"t":9.98,"f":100,"m":2},{"t":3.1,"f":108,"m":2},{"t":3.2,"f":100,"m":2},
{"t":2.02,"f":92,"m":1},{"t":2.06,"f":88,"m":1},{"t":2.10,"f":95,"m":1},{"t":2.14,"f":90,"m":1},{"t":2.18,"f":97,"m":1},{"t":2.22,"f":89,"m":1},{"t":2.26,"f":93,"m":1},{"t":2.30,"f":87,"m":1},{"t":2.34,"f":96,"m":1},{"t":2.38,"f":91,"m":1},{"t":2.42,"f":94,"m":1},{"t":2.46,"f":88,"m":1},{"t":2.50,"f":92,"m":1},{"t":2.54,"f":90,"m":1},{"t":2.04,"f":95,"m":1},{"t":2.08,"f":90,"m":1},{"t":2.12,"f":87,"m":1},{"t":2.16,"f":93,"m":1},{"t":2.20,"f":91,"m":1},{"t":2.24,"f":96,"m":1},{"t":2.28,"f":90,"m":1},{"t":2.32,"f":93,"m":1},{"t":2.36,"f":88,"m":1},{"t":2.40,"f":95,"m":1},{"t":2.44,"f":91,"m":1},{"t":2.48,"f":96,"m":1},{"t":2.52,"f":89,"m":1},{"t":2.56,"f":93,"m":1},{"t":2.60,"f":91,"m":1},{"t":2.64,"f":95,"m":1},
{"t":2.2,"f":230,"m":1},{"t":2.5,"f":215,"m":1},{"t":2.8,"f":245,"m":1},{"t":3.0,"f":205,"m":1},{"t":3.2,"f":235,"m":1},{"t":3.4,"f":160,"m":1},{"t":3.6,"f":225,"m":1},{"t":3.8,"f":140,"m":1},{"t":4.0,"f":150,"m":1},{"t":4.1,"f":210,"m":1},{"t":4.3,"f":155,"m":1},{"t":4.4,"f":240,"m":1},{"t":4.6,"f":150,"m":1},{"t":4.8,"f":220,"m":1},{"t":5.0,"f":145,"m":1},{"t":5.2,"f":235,"m":1},{"t":5.4,"f":152,"m":1},{"t":5.6,"f":210,"m":1},{"t":5.8,"f":148,"m":1},{"t":6.0,"f":240,"m":1},{"t":6.2,"f":155,"m":1},{"t":6.4,"f":225,"m":1},{"t":6.6,"f":150,"m":1},{"t":6.8,"f":205,"m":1},{"t":7.0,"f":148,"m":1},{"t":7.2,"f":238,"m":1},{"t":7.4,"f":153,"m":1},{"t":7.6,"f":215,"m":1},{"t":7.8,"f":150,"m":1},{"t":8.0,"f":230,"m":1},{"t":8.2,"f":155,"m":1},{"t":8.4,"f":208,"m":1},{"t":8.6,"f":150,"m":1},{"t":8.8,"f":242,"m":1},{"t":9.0,"f":152,"m":1},{"t":9.2,"f":220,"m":1},{"t":9.4,"f":148,"m":1},{"t":9.6,"f":235,"m":1},{"t":9.8,"f":155,"m":1},{"t":9.95,"f":152,"m":1},{"t":3.1,"f":250,"m":1},{"t":4.7,"f":245,"m":1},{"t":5.5,"f":248,"m":1},{"t":6.3,"f":200,"m":1},{"t":7.1,"f":246,"m":1},{"t":7.9,"f":200,"m":1},{"t":8.5,"f":249,"m":1},{"t":9.1,"f":203,"m":1},{"t":9.7,"f":247,"m":1},{"t":4.25,"f":135,"m":1},{"t":4.5,"f":128,"m":1},{"t":5.1,"f":132,"m":1},{"t":6.1,"f":125,"m":1},{"t":7.3,"f":130,"m":1},{"t":8.7,"f":128,"m":1},{"t":9.9,"f":150,"m":1},{"t":9.93,"f":146,"m":1},{"t":9.96,"f":152,"m":1},{"t":9.99,"f":148,"m":1},{"t":2.7,"f":180,"m":1},{"t":3.5,"f":188,"m":1},{"t":4.9,"f":185,"m":1},{"t":6.9,"f":183,"m":1},{"t":8.9,"f":186,"m":1},{"t":4.15,"f":150,"m":1},{"t":4.45,"f":152,"m":1},{"t":4.55,"f":148,"m":1},{"t":5.3,"f":150,"m":1},{"t":5.7,"f":153,"m":1},{"t":6.5,"f":149,"m":1},{"t":7.7,"f":151,"m":1},{"t":8.3,"f":149,"m":1},{"t":9.5,"f":150,"m":1}
],
"amp": [
{"t":2.00,"n=1":0.035,"n=2":0.140,"n=3":0.094,"n=4":0.013,"n=5":0.006},
{"t":2.05,"n=1":0.082,"n=2":0.060,"n=3":0.070,"n=4":0.008,"n=5":0.015},
{"t":2.10,"n=1":0.030,"n=2":0.085,"n=3":0.083,"n=4":0.012,"n=5":0.008},
{"t":2.15,"n=1":0.055,"n=2":0.040,"n=3":0.050,"n=4":0.010,"n=5":0.006},
{"t":2.20,"n=1":0.025,"n=2":0.070,"n=3":0.040,"n=4":0.015,"n=5":0.008},
{"t":2.25,"n=1":0.050,"n=2":0.030,"n=3":0.060,"n=4":0.012,"n=5":0.007},
{"t":2.30,"n=1":0.020,"n=2":0.060,"n=3":0.035,"n=4":0.020,"n=5":0.009},
{"t":2.35,"n=1":0.045,"n=2":0.090,"n=3":0.040,"n=4":0.027,"n=5":0.008},
{"t":2.40,"n=1":0.074,"n=2":0.135,"n=3":0.025,"n=4":0.048,"n=5":0.010},
{"t":2.45,"n=1":0.055,"n=2":0.070,"n=3":0.038,"n=4":0.044,"n=5":0.009},
{"t":2.50,"n=1":0.030,"n=2":0.095,"n=3":0.033,"n=4":0.030,"n=5":0.008},
{"t":2.55,"n=1":0.040,"n=2":0.050,"n=3":0.020,"n=4":0.020,"n=5":0.006},
{"t":2.60,"n=1":0.012,"n=2":0.040,"n=3":0.045,"n=4":0.017,"n=5":0.010},
{"t":2.65,"n=1":0.008,"n=2":0.030,"n=3":0.083,"n=4":0.012,"n=5":0.005},
{"t":2.70,"n=1":0.020,"n=2":0.015,"n=3":0.048,"n=4":0.008,"n=5":0.004},
{"t":2.75,"n=1":0.070,"n=2":0.010,"n=3":0.030,"n=4":0.012,"n=5":0.005},
{"t":2.80,"n=1":0.006,"n=2":0.008,"n=3":0.020,"n=4":0.006,"n=5":0.004},
{"t":2.85,"n=1":0.010,"n=2":0.006,"n=3":0.015,"n=4":0.017,"n=5":0.003},
{"t":2.90,"n=1":0.005,"n=2":0.020,"n=3":0.010,"n=4":0.003,"n=5":0.004},
{"t":2.95,"n=1":0.030,"n=2":0.012,"n=3":0.005,"n=4":0.002,"n=5":0.003},
{"t":3.00,"n=1":0.004,"n=2":0.030,"n=3":0.003,"n=4":0.001,"n=5":0.003},
{"t":3.05,"n=1":0.006,"n=2":0.018,"n=3":0.002,"n=4":0.002,"n=5":0.004},
{"t":3.10,"n=1":0.004,"n=2":0.040,"n=3":0.004,"n=4":0.001,"n=5":0.005},
{"t":3.15,"n=1":0.020,"n=2":0.020,"n=3":0.002,"n=4":0.002,"n=5":0.022},
{"t":3.20,"n=1":0.005,"n=2":0.050,"n=3":0.003,"n=4":0.001,"n=5":0.004},
{"t":3.25,"n=1":0.008,"n=2":0.030,"n=3":0.002,"n=4":0.002,"n=5":0.003},
{"t":3.30,"n=1":0.004,"n=2":0.060,"n=3":0.004,"n=4":0.001,"n=5":0.004},
{"t":3.35,"n=1":0.025,"n=2":0.025,"n=3":0.002,"n=4":0.002,"n=5":0.003},
{"t":3.40,"n=1":0.006,"n=2":0.070,"n=3":0.003,"n=4":0.001,"n=5":0.004},
{"t":3.45,"n=1":0.010,"n=2":0.040,"n=3":0.002,"n=4":0.002,"n=5":0.003},
{"t":3.50,"n=1":0.004,"n=2":0.085,"n=3":0.004,"n=4":0.001,"n=5":0.004},
{"t":3.55,"n=1":0.015,"n=2":0.050,"n=3":0.002,"n=4":0.002,"n=5":0.003},
{"t":3.60,"n=1":0.005,"n=2":0.095,"n=3":0.003,"n=4":0.001,"n=5":0.012},
{"t":3.65,"n=1":0.012,"n=2":0.124,"n=3":0.002,"n=4":0.002,"n=5":0.004},
{"t":3.70,"n=1":0.004,"n=2":0.060,"n=3":0.011,"n=4":0.001,"n=5":0.003},
{"t":3.75,"n=1":0.018,"n=2":0.100,"n=3":0.003,"n=4":0.002,"n=5":0.004},
{"t":3.80,"n=1":0.006,"n=2":0.045,"n=3":0.002,"n=4":0.001,"n=5":0.003},
{"t":3.85,"n=1":0.010,"n=2":0.080,"n=3":0.014,"n=4":0.002,"n=5":0.004},
{"t":3.90,"n=1":0.015,"n=2":0.108,"n=3":0.003,"n=4":0.001,"n=5":0.005},
{"t":3.95,"n=1":0.025,"n=2":0.050,"n=3":0.002,"n=4":0.002,"n=5":0.072},
{"t":4.00,"n=1":0.010,"n=2":0.060,"n=3":0.004,"n=4":0.001,"n=5":0.004},
{"t":4.05,"n=1":0.018,"n=2":0.035,"n=3":0.002,"n=4":0.002,"n=5":0.003},
{"t":4.10,"n=1":0.006,"n=2":0.055,"n=3":0.003,"n=4":0.001,"n=5":0.004},
{"t":4.15,"n=1":0.015,"n=2":0.030,"n=3":0.026,"n=4":0.002,"n=5":0.003},
{"t":4.20,"n=1":0.008,"n=2":0.065,"n=3":0.003,"n=4":0.001,"n=5":0.004},
{"t":4.25,"n=1":0.036,"n=2":0.025,"n=3":0.002,"n=4":0.002,"n=5":0.003},
{"t":4.30,"n=1":0.012,"n=2":0.010,"n=3":0.017,"n=4":0.001,"n=5":0.004},
{"t":4.35,"n=1":0.010,"n=2":0.006,"n=3":0.003,"n=4":0.002,"n=5":0.003},
{"t":4.40,"n=1":0.006,"n=2":0.005,"n=3":0.002,"n=4":0.001,"n=5":0.004},
{"t":4.45,"n=1":0.018,"n=2":0.007,"n=3":0.040,"n=4":0.002,"n=5":0.003},
{"t":4.50,"n=1":0.005,"n=2":0.004,"n=3":0.003,"n=4":0.001,"n=5":0.004},
{"t":4.55,"n=1":0.012,"n=2":0.006,"n=3":0.002,"n=4":0.002,"n=5":0.003},
{"t":4.60,"n=1":0.004,"n=2":0.005,"n=3":0.004,"n=4":0.001,"n=5":0.004},
{"t":4.65,"n=1":0.020,"n=2":0.007,"n=3":0.002,"n=4":0.002,"n=5":0.003},
{"t":4.70,"n=1":0.006,"n=2":0.004,"n=3":0.003,"n=4":0.001,"n=5":0.004},
{"t":4.75,"n=1":0.010,"n=2":0.006,"n=3":0.002,"n=4":0.002,"n=5":0.003},
{"t":4.80,"n=1":0.004,"n=2":0.005,"n=3":0.004,"n=4":0.001,"n=5":0.004},
{"t":4.85,"n=1":0.018,"n=2":0.007,"n=3":0.002,"n=4":0.002,"n=5":0.006},
{"t":4.90,"n=1":0.006,"n=2":0.004,"n=3":0.003,"n=4":0.001,"n=5":0.003},
{"t":4.95,"n=1":0.025,"n=2":0.006,"n=3":0.002,"n=4":0.002,"n=5":0.004},
{"t":5.00,"n=1":0.005,"n=2":0.005,"n=3":0.004,"n=4":0.001,"n=5":0.003},
{"t":5.05,"n=1":0.012,"n=2":0.007,"n=3":0.002,"n=4":0.002,"n=5":0.004},
{"t":5.10,"n=1":0.004,"n=2":0.004,"n=3":0.003,"n=4":0.001,"n=5":0.003},
{"t":5.15,"n=1":0.015,"n=2":0.006,"n=3":0.002,"n=4":0.003,"n=5":0.004},
{"t":5.20,"n=1":0.006,"n=2":0.005,"n=3":0.005,"n=4":0.001,"n=5":0.006},
{"t":5.25,"n=1":0.020,"n=2":0.007,"n=3":0.002,"n=4":0.002,"n=5":0.003},
{"t":5.30,"n=1":0.005,"n=2":0.004,"n=3":0.003,"n=4":0.001,"n=5":0.004},
{"t":5.35,"n=1":0.010,"n=2":0.006,"n=3":0.002,"n=4":0.002,"n=5":0.003},
{"t":5.40,"n=1":0.004,"n=2":0.005,"n=3":0.004,"n=4":0.001,"n=5":0.004},
{"t":5.45,"n=1":0.028,"n=2":0.007,"n=3":0.002,"n=4":0.003,"n=5":0.003},
{"t":5.50,"n=1":0.006,"n=2":0.004,"n=3":0.003,"n=4":0.001,"n=5":0.004},
{"t":5.55,"n=1":0.012,"n=2":0.006,"n=3":0.002,"n=4":0.002,"n=5":0.003},
{"t":5.60,"n=1":0.005,"n=2":0.005,"n=3":0.004,"n=4":0.001,"n=5":0.004},
{"t":5.65,"n=1":0.018,"n=2":0.007,"n=3":0.002,"n=4":0.002,"n=5":0.003},
{"t":5.70,"n=1":0.004,"n=2":0.004,"n=3":0.003,"n=4":0.001,"n=5":0.004},
{"t":5.75,"n=1":0.010,"n=2":0.006,"n=3":0.002,"n=4":0.003,"n=5":0.003},
{"t":5.80,"n=1":0.022,"n=2":0.005,"n=3":0.005,"n=4":0.001,"n=5":0.004},
{"t":5.85,"n=1":0.006,"n=2":0.007,"n=3":0.002,"n=4":0.002,"n=5":0.003},
{"t":5.90,"n=1":0.012,"n=2":0.004,"n=3":0.003,"n=4":0.001,"n=5":0.004},
{"t":5.95,"n=1":0.005,"n=2":0.006,"n=3":0.002,"n=4":0.002,"n=5":0.003},
{"t":6.00,"n=1":0.020,"n=2":0.005,"n=3":0.004,"n=4":0.001,"n=5":0.004},
{"t":6.05,"n=1":0.006,"n=2":0.007,"n=3":0.002,"n=4":0.003,"n=5":0.003},
{"t":6.10,"n=1":0.012,"n=2":0.004,"n=3":0.003,"n=4":0.001,"n=5":0.004},
{"t":6.15,"n=1":0.004,"n=2":0.006,"n=3":0.002,"n=4":0.002,"n=5":0.003},
{"t":6.20,"n=1":0.026,"n=2":0.005,"n=3":0.004,"n=4":0.001,"n=5":0.004},
{"t":6.25,"n=1":0.006,"n=2":0.007,"n=3":0.002,"n=4":0.002,"n=5":0.003},
{"t":6.30,"n=1":0.010,"n=2":0.004,"n=3":0.003,"n=4":0.001,"n=5":0.004},
{"t":6.35,"n=1":0.005,"n=2":0.006,"n=3":0.002,"n=4":0.003,"n=5":0.003},
{"t":6.40,"n=1":0.018,"n=2":0.005,"n=3":0.004,"n=4":0.001,"n=5":0.004},
{"t":6.45,"n=1":0.006,"n=2":0.007,"n=3":0.002,"n=4":0.002,"n=5":0.003},
{"t":6.50,"n=1":0.012,"n=2":0.004,"n=3":0.003,"n=4":0.001,"n=5":0.005},
{"t":6.55,"n=1":0.004,"n=2":0.006,"n=3":0.002,"n=4":0.002,"n=5":0.003},
{"t":6.60,"n=1":0.022,"n=2":0.005,"n=3":0.004,"n=4":0.001,"n=5":0.004},
{"t":6.65,"n=1":0.006,"n=2":0.007,"n=3":0.002,"n=4":0.003,"n=5":0.003},
{"t":6.70,"n=1":0.010,"n=2":0.004,"n=3":0.003,"n=4":0.001,"n=5":0.004},
{"t":6.75,"n=1":0.005,"n=2":0.006,"n=3":0.002,"n=4":0.002,"n=5":0.003},
{"t":6.80,"n=1":0.016,"n=2":0.005,"n=3":0.004,"n=4":0.001,"n=5":0.004},
{"t":6.85,"n=1":0.004,"n=2":0.007,"n=3":0.002,"n=4":0.002,"n=5":0.005},
{"t":6.90,"n=1":0.012,"n=2":0.004,"n=3":0.003,"n=4":0.001,"n=5":0.003},
{"t":6.95,"n=1":0.025,"n=2":0.006,"n=3":0.002,"n=4":0.003,"n=5":0.004},
{"t":7.00,"n=1":0.006,"n=2":0.005,"n=3":0.004,"n=4":0.001,"n=5":0.003},
{"t":7.05,"n=1":0.010,"n=2":0.007,"n=3":0.002,"n=4":0.002,"n=5":0.004},
{"t":7.10,"n=1":0.005,"n=2":0.004,"n=3":0.003,"n=4":0.001,"n=5":0.003},
{"t":7.15,"n=1":0.018,"n=2":0.006,"n=3":0.002,"n=4":0.002,"n=5":0.004},
{"t":7.20,"n=1":0.004,"n=2":0.005,"n=3":0.004,"n=4":0.001,"n=5":0.003},
{"t":7.25,"n=1":0.012,"n=2":0.007,"n=3":0.002,"n=4":0.003,"n=5":0.004},
{"t":7.30,"n=1":0.020,"n=2":0.004,"n=3":0.003,"n=4":0.001,"n=5":0.003},
{"t":7.35,"n=1":0.006,"n=2":0.006,"n=3":0.002,"n=4":0.002,"n=5":0.004},
{"t":7.40,"n=1":0.010,"n=2":0.005,"n=3":0.004,"n=4":0.001,"n=5":0.003},
{"t":7.45,"n=1":0.004,"n=2":0.007,"n=3":0.002,"n=4":0.002,"n=5":0.004},
{"t":7.50,"n=1":0.015,"n=2":0.004,"n=3":0.003,"n=4":0.003,"n=5":0.003},
{"t":7.55,"n=1":0.006,"n=2":0.006,"n=3":0.002,"n=4":0.001,"n=5":0.004},
{"t":7.60,"n=1":0.022,"n=2":0.005,"n=3":0.004,"n=4":0.002,"n=5":0.003},
{"t":7.65,"n=1":0.005,"n=2":0.007,"n=3":0.002,"n=4":0.001,"n=5":0.004},
{"t":7.70,"n=1":0.012,"n=2":0.004,"n=3":0.003,"n=4":0.002,"n=5":0.003},
{"t":7.75,"n=1":0.004,"n=2":0.006,"n=3":0.002,"n=4":0.001,"n=5":0.004},
{"t":7.80,"n=1":0.018,"n=2":0.005,"n=3":0.004,"n=4":0.003,"n=5":0.003},
{"t":7.85,"n=1":0.006,"n=2":0.007,"n=3":0.002,"n=4":0.001,"n=5":0.004},
{"t":7.90,"n=1":0.010,"n=2":0.004,"n=3":0.003,"n=4":0.005,"n=5":0.003},
{"t":7.95,"n=1":0.020,"n=2":0.006,"n=3":0.002,"n=4":0.001,"n=5":0.004},
{"t":8.00,"n=1":0.005,"n=2":0.005,"n=3":0.004,"n=4":0.002,"n=5":0.003},
{"t":8.05,"n=1":0.012,"n=2":0.007,"n=3":0.002,"n=4":0.004,"n=5":0.004},
{"t":8.10,"n=1":0.004,"n=2":0.004,"n=3":0.003,"n=4":0.001,"n=5":0.003},
{"t":8.15,"n=1":0.018,"n=2":0.006,"n=3":0.002,"n=4":0.002,"n=5":0.004},
{"t":8.20,"n=1":0.006,"n=2":0.005,"n=3":0.004,"n=4":0.001,"n=5":0.003},
{"t":8.25,"n=1":0.010,"n=2":0.007,"n=3":0.002,"n=4":0.003,"n=5":0.004},
{"t":8.30,"n=1":0.005,"n=2":0.004,"n=3":0.003,"n=4":0.001,"n=5":0.003},
{"t":8.35,"n=1":0.015,"n=2":0.006,"n=3":0.002,"n=4":0.002,"n=5":0.004},
{"t":8.40,"n=1":0.028,"n=2":0.005,"n=3":0.004,"n=4":0.001,"n=5":0.003},
{"t":8.45,"n=1":0.006,"n=2":0.007,"n=3":0.002,"n=4":0.002,"n=5":0.004},
{"t":8.50,"n=1":0.012,"n=2":0.004,"n=3":0.003,"n=4":0.001,"n=5":0.003},
{"t":8.55,"n=1":0.005,"n=2":0.008,"n=3":0.002,"n=4":0.003,"n=5":0.004},
{"t":8.60,"n=1":0.022,"n=2":0.006,"n=3":0.004,"n=4":0.006,"n=5":0.003},
{"t":8.65,"n=1":0.004,"n=2":0.009,"n=3":0.005,"n=4":0.002,"n=5":0.006},
{"t":8.70,"n=1":0.012,"n=2":0.007,"n=3":0.003,"n=4":0.004,"n=5":0.003},
{"t":8.75,"n=1":0.006,"n=2":0.008,"n=3":0.006,"n=4":0.002,"n=5":0.004},
{"t":8.80,"n=1":0.025,"n=2":0.006,"n=3":0.004,"n=4":0.005,"n=5":0.003},
{"t":8.85,"n=1":0.005,"n=2":0.009,"n=3":0.007,"n=4":0.002,"n=5":0.004},
{"t":8.90,"n=1":0.010,"n=2":0.007,"n=3":0.005,"n=4":0.004,"n=5":0.003},
{"t":8.95,"n=1":0.004,"n=2":0.008,"n=3":0.003,"n=4":0.002,"n=5":0.004},
{"t":9.00,"n=1":0.008,"n=2":0.006,"n=3":0.006,"n=4":0.004,"n=5":0.003},
{"t":9.05,"n=1":0.004,"n=2":0.007,"n=3":0.004,"n=4":0.002,"n=5":0.004},
{"t":9.10,"n=1":0.012,"n=2":0.006,"n=3":0.007,"n=4":0.003,"n=5":0.003},
{"t":9.15,"n=1":0.006,"n=2":0.007,"n=3":0.005,"n=4":0.002,"n=5":0.004},
{"t":9.20,"n=1":0.022,"n=2":0.006,"n=3":0.004,"n=4":0.004,"n=5":0.003},
{"t":9.25,"n=1":0.008,"n=2":0.007,"n=3":0.006,"n=4":0.002,"n=5":0.004},
{"t":9.30,"n=1":0.012,"n=2":0.006,"n=3":0.005,"n=4":0.003,"n=5":0.003},
{"t":9.35,"n=1":0.006,"n=2":0.007,"n=3":0.007,"n=4":0.002,"n=5":0.007},
{"t":9.40,"n=1":0.015,"n=2":0.006,"n=3":0.004,"n=4":0.003,"n=5":0.003},
{"t":9.45,"n=1":0.010,"n=2":0.007,"n=3":0.006,"n=4":0.002,"n=5":0.004},
{"t":9.50,"n=1":0.018,"n=2":0.006,"n=3":0.005,"n=4":0.004,"n=5":0.003},
{"t":9.55,"n=1":0.028,"n=2":0.007,"n=3":0.007,"n=4":0.002,"n=5":0.004},
{"t":9.60,"n=1":0.012,"n=2":0.006,"n=3":0.004,"n=4":0.003,"n=5":0.003},
{"t":9.65,"n=1":0.008,"n=2":0.007,"n=3":0.006,"n=4":0.002,"n=5":0.004},
{"t":9.70,"n=1":0.015,"n=2":0.006,"n=3":0.008,"n=4":0.003,"n=5":0.003},
{"t":9.75,"n=1":0.006,"n=2":0.007,"n=3":0.005,"n=4":0.002,"n=5":0.004},
{"t":9.80,"n=1":0.012,"n=2":0.006,"n=3":0.007,"n=4":0.003,"n=5":0.003},
{"t":9.85,"n=1":0.004,"n=2":0.008,"n=3":0.005,"n=4":0.002,"n=5":0.004},
{"t":9.90,"n=1":0.010,"n=2":0.007,"n=3":0.008,"n=4":0.003,"n=5":0.003},
{"t":9.95,"n=1":0.025,"n=2":0.012,"n=3":0.006,"n=4":0.002,"n=5":0.004},
{"t":10.00,"n=1":0.012,"n=2":0.060,"n=3":0.008,"n=4":0.004,"n=5":0.003}
]
},
"vconcat": [
{
"width": 682, "height": 84,
"view": {"stroke": null},
"data": {"values": [{}]},
"encoding": {
 "x": {"type": "quantitative", "scale": {"domain": [2, 10], "nice": false, "zero": false}, "axis": null},
 "y": {"type": "quantitative", "scale": {"domain": [0, 1], "nice": false, "zero": false}, "axis": null}
},
"layer": [
 {"mark": {"type": "text", "text": "P", "font": "Liberation Sans", "fontSize": 30, "align": "left", "baseline": "alphabetic", "color": "#000"}, "encoding": {"x": {"datum": 2.1525}, "y": {"datum": 0.631}}},
 {"mark": {"type": "text", "text": "NB", "font": "Liberation Sans", "fontSize": 15, "align": "left", "baseline": "alphabetic", "color": "#000"}, "encoding": {"x": {"datum": 2.3988}, "y": {"datum": 0.5595}}},
 {"mark": {"type": "text", "text": "~ 3.4 MW (on-axis, co-NBI),", "font": "Liberation Sans", "fontSize": 30, "align": "left", "baseline": "alphabetic", "color": "#000"}, "encoding": {"x": {"datum": 2.7038}, "y": {"datum": 0.631}}},
 {"mark": {"type": "text", "text": "P", "font": "Liberation Sans", "fontSize": 30, "align": "left", "baseline": "alphabetic", "color": "#000"}, "encoding": {"x": {"datum": 7.1378}, "y": {"datum": 0.631}}},
 {"mark": {"type": "text", "text": "EC", "font": "Liberation Sans", "fontSize": 15, "align": "left", "baseline": "alphabetic", "color": "#000"}, "encoding": {"x": {"datum": 7.3841}, "y": {"datum": 0.5595}}},
 {"mark": {"type": "text", "text": "~ 1.3 MW", "font": "Liberation Sans", "fontSize": 30, "align": "left", "baseline": "alphabetic", "color": "#000"}, "encoding": {"x": {"datum": 7.6774}, "y": {"datum": 0.631}}},
 {"mark": {"type": "text", "text": "Co-ECCD", "font": "Liberation Sans", "fontSize": 29, "fontWeight": "bold", "align": "left", "baseline": "alphabetic", "color": "#ff0000"}, "encoding": {"x": {"datum": 2.1525}, "y": {"datum": 0.2619}}},
 {"mark": {"type": "text", "text": ",", "font": "Liberation Sans", "fontSize": 29, "align": "left", "baseline": "alphabetic", "color": "#000"}, "encoding": {"x": {"datum": 3.6891}, "y": {"datum": 0.2619}}},
 {"mark": {"type": "text", "text": "ϕ", "font": "DejaVu Serif", "fontStyle": "italic", "fontSize": 28, "align": "left", "baseline": "alphabetic", "color": "#000"}, "encoding": {"x": {"datum": 3.8651}, "y": {"datum": 0.2619}}},
 {"mark": {"type": "text", "text": "tor,EC", "font": "Liberation Sans", "fontSize": 15, "align": "left", "baseline": "alphabetic", "color": "#000"}, "encoding": {"x": {"datum": 4.0528}, "y": {"datum": 0.1905}}},
 {"mark": {"type": "text", "text": "= +20°", "font": "Liberation Sans", "fontSize": 29, "align": "left", "baseline": "alphabetic", "color": "#000"}, "encoding": {"x": {"datum": 4.6393}, "y": {"datum": 0.2619}}},
 {"mark": {"type": "text", "text": "22939", "font": "DejaVu Sans", "fontSize": 15, "fontWeight": "bold", "align": "right", "baseline": "alphabetic", "color": "#1414e6"}, "encoding": {"x": {"datum": 9.988}, "y": {"datum": 0.0833}}}
]
},
{
"width": 682, "height": 105,
"layer": [
 {"data": {"name": "slow"}, "mark": {"type": "line", "color": "#f6b0b0", "strokeWidth": 1.2, "clip": true},
  "encoding": {
   "x": {"field": "t", "type": "quantitative", "scale": {"domain": [2, 10], "nice": false, "zero": false}, "axis": {"values": [2, 4, 6, 8, 10], "title": null, "labels": false, "domain": false, "grid": false, "tickColor": "#000", "tickSize": 5, "tickWidth": 1.5}},
   "y": {"field": "r", "type": "quantitative", "scale": {"domain": [0.455, 3.35], "nice": false, "zero": false}, "axis": {"values": [0.8, 1.6, 2.4, 3.2], "tickCount": 20, "format": ".1f", "title": null, "domain": false, "grid": false, "labelFont": "DejaVu Sans", "labelFontWeight": "bold", "labelFontSize": 14, "labelColor": "#000", "tickColor": "#000", "tickSize": 4, "tickWidth": 1.5, "labelPadding": 1, "labelFlush": false, "labelOverlap": false}}
  }},
 {"data": {"name": "slow"}, "mark": {"type": "line", "color": "#ff0000", "strokeWidth": 2.2}, "encoding": {"x": {"field": "t", "type": "quantitative"}, "y": {"field": "q", "type": "quantitative"}}},
 {"data": {"name": "slow"}, "mark": {"type": "line", "color": "#0000ff", "strokeWidth": 2}, "encoding": {"x": {"field": "t", "type": "quantitative"}, "y": {"field": "li", "type": "quantitative"}}},
 {"data": {"name": "vlines"}, "mark": {"type": "rule", "strokeWidth": 3, "strokeDash": [10, 6]}, "encoding": {"x": {"field": "t", "type": "quantitative"}, "stroke": {"field": "c", "type": "nominal", "scale": {"domain": ["b", "g", "r"], "range": ["#0a2bff", "#1fae4f", "#ff1a1a"]}, "legend": null}}},
 {"data": {"values": [{}]}, "mark": {"type": "text", "text": "q", "font": "DejaVu Sans", "fontWeight": "bold", "fontSize": 21, "align": "left", "baseline": "alphabetic", "color": "#ff0000"}, "encoding": {"x": {"datum": 2.164}, "y": {"datum": 1.92}}},
 {"data": {"values": [{}]}, "mark": {"type": "text", "text": "0(MSE)", "font": "DejaVu Sans", "fontWeight": "bold", "fontSize": 13, "align": "left", "baseline": "alphabetic", "color": "#ff0000"}, "encoding": {"x": {"datum": 2.31}, "y": {"datum": 1.81}}},
 {"data": {"values": [{}]}, "mark": {"type": "text", "text": "l", "font": "DejaVu Sans", "fontWeight": "bold", "fontSize": 18, "align": "left", "baseline": "alphabetic", "color": "#0000ff"}, "encoding": {"x": {"datum": 2.3167}, "y": {"datum": 0.985}}},
 {"data": {"values": [{}]}, "mark": {"type": "text", "text": "i", "font": "DejaVu Sans", "fontWeight": "bold", "fontSize": 12, "align": "left", "baseline": "alphabetic", "color": "#0000ff"}, "encoding": {"x": {"datum": 2.3988}, "y": {"datum": 0.902}}}
]
},
{
"width": 682, "height": 107,
"layer": [
 {"data": {"name": "zec"}, "mark": {"type": "line", "color": "#0000ff", "strokeWidth": 1.5},
  "encoding": {
   "x": {"field": "t", "type": "quantitative", "scale": {"domain": [2, 10], "nice": false, "zero": false}, "axis": {"values": [2, 4, 6, 8, 10], "title": null, "labels": false, "domain": false, "grid": false, "tickColor": "#000", "tickSize": 5, "tickWidth": 1.5}},
   "y": {"field": "v", "type": "quantitative", "scale": {"domain": [-12, 12], "nice": false, "zero": false}, "axis": {"values": [-12, -6, 0, 6, 12], "tickCount": 20, "title": null, "domain": false, "grid": false, "labelFont": "DejaVu Sans", "labelFontWeight": "bold", "labelFontSize": 14, "labelColor": "#000", "tickColor": "#000", "tickSize": 4, "tickWidth": 1.5, "labelPadding": 1, "labelFlush": false, "labelOverlap": false}}
  }},
 {"data": {"name": "pec2"}, "mark": {"type": "line", "color": "#0000ff", "strokeWidth": 3.5}, "encoding": {"x": {"field": "t", "type": "quantitative"}, "y": {"field": "v", "type": "quantitative"}}},
 {"data": {"name": "pec3"}, "mark": {"type": "line", "color": "#1a841a", "strokeWidth": 2}, "encoding": {"x": {"field": "t", "type": "quantitative"}, "y": {"field": "v", "type": "quantitative"}}},
 {"data": {"name": "vlines"}, "mark": {"type": "rule", "strokeWidth": 3, "strokeDash": [10, 6]}, "encoding": {"x": {"field": "t", "type": "quantitative"}, "stroke": {"field": "c", "type": "nominal", "scale": {"domain": ["b", "g", "r"], "range": ["#0a2bff", "#1fae4f", "#ff1a1a"]}, "legend": null}}},
 {"data": {"values": [{}]}, "mark": {"type": "text", "text": "P", "font": "DejaVu Sans", "fontWeight": "bold", "fontSize": 18, "align": "left", "baseline": "alphabetic", "color": "#0000ff"}, "encoding": {"x": {"datum": 5.2493}, "y": {"datum": 8.41}}},
 {"data": {"values": [{}]}, "mark": {"type": "text", "text": "EC2", "font": "DejaVu Sans", "fontWeight": "bold", "fontSize": 12.5, "align": "left", "baseline": "alphabetic", "color": "#0000ff"}, "encoding": {"x": {"datum": 5.4018}, "y": {"datum": 7.74}}},
 {"data": {"values": [{}]}, "mark": {"type": "text", "text": "[x100 kW]", "font": "DejaVu Sans", "fontWeight": "bold", "fontSize": 18, "align": "left", "baseline": "alphabetic", "color": "#0000ff"}, "encoding": {"x": {"datum": 5.8124}, "y": {"datum": 8.41}}},
 {"data": {"values": [{}]}, "mark": {"type": "text", "text": "P", "font": "DejaVu Sans", "fontWeight": "bold", "fontSize": 18, "align": "left", "baseline": "alphabetic", "color": "#1a841a"}, "encoding": {"x": {"datum": 5.2727}, "y": {"datum": 0.11}}},
 {"data": {"values": [{}]}, "mark": {"type": "text", "text": "EC3", "font": "DejaVu Sans", "fontWeight": "bold", "fontSize": 12.5, "align": "left", "baseline": "alphabetic", "color": "#1a841a"}, "encoding": {"x": {"datum": 5.4252}, "y": {"datum": -0.56}}},
 {"data": {"values": [{}]}, "mark": {"type": "text", "text": "[x100 kW]", "font": "DejaVu Sans", "fontWeight": "bold", "fontSize": 18, "align": "left", "baseline": "alphabetic", "color": "#1a841a"}, "encoding": {"x": {"datum": 5.8358}, "y": {"datum": 0.11}}},
 {"data": {"values": [{}]}, "mark": {"type": "text", "text": "Z", "font": "DejaVu Sans", "fontWeight": "bold", "fontSize": 18, "align": "left", "baseline": "alphabetic", "color": "#0000ff"}, "encoding": {"x": {"datum": 5.7419}, "y": {"datum": -8.86}}},
 {"data": {"values": [{}]}, "mark": {"type": "text", "text": "EC", "font": "DejaVu Sans", "fontWeight": "bold", "fontSize": 12.5, "align": "left", "baseline": "alphabetic", "color": "#0000ff"}, "encoding": {"x": {"datum": 5.8944}, "y": {"datum": -9.53}}},
 {"data": {"values": [{}]}, "mark": {"type": "text", "text": "[cm]", "font": "DejaVu Sans", "fontWeight": "bold", "fontSize": 18, "align": "left", "baseline": "alphabetic", "color": "#0000ff"}, "encoding": {"x": {"datum": 6.2112}, "y": {"datum": -8.86}}}
]
},
{
"width": 682, "height": 107,
"view": {"fill": "#fdd6c7", "stroke": "#000", "strokeWidth": 2},
"layer": [
 {"data": {"name": "gaps"}, "mark": {"type": "rule", "color": "#ffffff", "strokeWidth": 1.3, "opacity": 0.85, "clip": true},
  "encoding": {
   "x": {"field": "t", "type": "quantitative", "scale": {"domain": [2, 10], "nice": false, "zero": false}, "axis": {"values": [2, 4, 6, 8, 10], "title": null, "labels": false, "domain": false, "grid": false, "tickColor": "#000", "tickSize": 5, "tickWidth": 1.5}},
   "y": {"field": "a", "type": "quantitative", "scale": {"domain": [0.698, 2.81], "nice": false, "zero": false}, "axis": {"values": [1.0, 1.5, 2.0, 2.5], "tickCount": 20, "format": ".1f", "title": null, "domain": false, "grid": false, "labelFont": "DejaVu Sans", "labelFontWeight": "bold", "labelFontSize": 14, "labelColor": "#000", "tickColor": "#000", "tickSize": 4, "tickWidth": 1.5, "labelPadding": 1, "labelFlush": false, "labelOverlap": false}},
   "y2": {"field": "b"}
  }},
 {"data": {"name": "slow"}, "mark": {"type": "line", "color": "#ff7f50", "strokeWidth": 2.5}, "encoding": {"x": {"field": "t", "type": "quantitative"}, "y": {"field": "ne", "type": "quantitative"}}},
 {"data": {"name": "slow"}, "mark": {"type": "line", "color": "#3a2ad8", "strokeWidth": 1.5}, "encoding": {"x": {"field": "t", "type": "quantitative"}, "y": {"field": "bn", "type": "quantitative"}}},
 {"data": {"name": "vlines"}, "mark": {"type": "rule", "strokeWidth": 3, "strokeDash": [10, 6]}, "encoding": {"x": {"field": "t", "type": "quantitative"}, "stroke": {"field": "c", "type": "nominal", "scale": {"domain": ["b", "g", "r"], "range": ["#0a2bff", "#1fae4f", "#ff1a1a"]}, "legend": null}}},
 {"data": {"values": [{}]}, "mark": {"type": "text", "text": "betaN", "font": "DejaVu Sans", "fontWeight": "bold", "fontSize": 18, "align": "left", "baseline": "alphabetic", "color": "#1010f0"}, "encoding": {"x": {"datum": 2.3519}, "y": {"datum": 2.30}}},
 {"data": {"values": [{}]}, "mark": {"type": "text", "text": "neutron (fissin chamber) [a.u.]", "font": "DejaVu Sans", "fontWeight": "bold", "fontSize": 19, "align": "left", "baseline": "alphabetic", "color": "#ff8a5c"}, "encoding": {"x": {"datum": 2.3519}, "y": {"datum": 1.007}}},
 {"data": {"values": [{}]}, "mark": {"type": "text", "text": "×10³", "font": "DejaVu Sans", "fontSize": 9, "align": "left", "baseline": "middle", "color": "#333"}, "encoding": {"x": {"datum": 2.0352}, "y": {"datum": 0.80}}},
 {"data": {"values": [{}]}, "mark": {"type": "text", "text": "3.5", "font": "DejaVu Sans", "fontWeight": "bold", "fontSize": 14, "align": "right", "baseline": "middle", "color": "#000"}, "encoding": {"x": {"datum": 1.9531}, "y": {"datum": 0.698}}}
]
},
{
"width": 682, "height": 24,
"view": {"stroke": null},
"data": {"name": "vlines"},
"mark": {"type": "rule", "strokeWidth": 3, "strokeDash": [10, 6]},
"encoding": {"x": {"field": "t", "type": "quantitative", "scale": {"domain": [2, 10], "nice": false, "zero": false}, "axis": null}, "stroke": {"field": "c", "type": "nominal", "scale": {"domain": ["b", "g", "r"], "range": ["#0a2bff", "#1fae4f", "#ff1a1a"]}, "legend": null}}
},
{
"spacing": 2.5,
"bounds": "flush",
"resolve": {"scale": {"x": "independent", "y": "independent", "color": "independent", "stroke": "independent"}, "legend": {"color": "independent"}},
"vconcat": [
 {
 "width": 682, "height": 66,
 "view": {"stroke": "#999", "strokeWidth": 1.5},
 "layer": [
  {"data": {"name": "spec"}, "mark": {"type": "square", "size": 5, "opacity": 0.85, "clip": true},
   "encoding": {
    "x": {"field": "t", "type": "quantitative", "scale": {"domain": [2, 10], "nice": false, "zero": false}, "axis": {"values": [2, 3, 4, 5, 6, 7, 8, 9, 10], "title": null, "labels": false, "domain": false, "grid": true, "gridColor": "#dcdcf6", "tickColor": "#999", "tickSize": 3}},
    "y": {"field": "f", "type": "quantitative", "scale": {"domain": [82, 250], "nice": false, "zero": false}, "axis": {"values": [100, 200], "title": "Freq [kHz]", "titleFont": "DejaVu Sans", "titleFontSize": 26, "titleFontWeight": "normal", "titleColor": "#000", "titleBaseline": "alphabetic", "titlePadding": 24, "domain": false, "grid": true, "gridColor": "#dcdcf6", "tickColor": "#999", "tickSize": 3, "labelFont": "DejaVu Sans", "labelFontSize": 12, "labelColor": "#777", "labelPadding": 3, "labelFlush": false}},
    "color": {"field": "m", "type": "nominal", "scale": {"domain": [1, 2, 3, 4, 5], "range": ["#ff1a1a", "#22ee22", "#1010cc", "#ffa51f", "#3b7db5"]}, "legend": null}
   }},
  {"data": {"name": "vlines"}, "mark": {"type": "rule", "strokeWidth": 3, "strokeDash": [10, 6]}, "encoding": {"x": {"field": "t", "type": "quantitative"}, "stroke": {"field": "c", "type": "nominal", "scale": {"domain": ["b", "g", "r"], "range": ["#0a2bff", "#1fae4f", "#ff1a1a"]}, "legend": null}}}
 ]
 },
 {
 "width": 682, "height": 66,
 "view": {"stroke": "#999", "strokeWidth": 1.5},
 "layer": [
  {"data": {"name": "amp"}, "transform": [{"fold": ["n=1"], "as": ["mode", "amp"]}], "mark": {"type": "line", "strokeWidth": 1, "clip": true},
   "encoding": {
    "x": {"field": "t", "type": "quantitative", "scale": {"domain": [2, 10], "nice": false, "zero": false}, "axis": {"values": [2, 3, 4, 5, 6, 7, 8, 9, 10], "title": null, "labels": false, "domain": false, "grid": true, "gridColor": "#dcdcf6", "tickColor": "#999", "tickSize": 3}},
    "y": {"field": "amp", "type": "quantitative", "scale": {"domain": [-0.003, 0.1505], "nice": false, "zero": false}, "axis": {"values": [0, 0.1], "format": ".1f", "title": null, "domain": false, "grid": true, "gridColor": "#dcdcf6", "tickColor": "#999", "tickSize": 3, "labelFont": "DejaVu Sans", "labelFontSize": 12, "labelColor": "#777", "labelPadding": 3, "labelFlush": false}},
    "color": {"field": "mode", "type": "nominal", "scale": {"range": ["#ee1111"]}, "legend": {"orient": "top-right", "title": null, "symbolType": "stroke", "symbolStrokeWidth": 1.5, "symbolSize": 484, "labelFont": "DejaVu Sans", "labelFontSize": 12, "labelColor": "#666", "fillColor": "#ffffff", "strokeColor": "#d4d4d4", "padding": 5, "offset": 5, "cornerRadius": 3}}
   }},
  {"data": {"name": "vlines"}, "mark": {"type": "rule", "strokeWidth": 3, "strokeDash": [10, 6]}, "encoding": {"x": {"field": "t", "type": "quantitative"}, "stroke": {"field": "c", "type": "nominal", "scale": {"domain": ["b", "g", "r"], "range": ["#0a2bff", "#1fae4f", "#ff1a1a"]}, "legend": null}}}
 ]
 },
 {
 "width": 682, "height": 66,
 "view": {"stroke": "#999", "strokeWidth": 1.5},
 "layer": [
  {"data": {"name": "amp"}, "transform": [{"fold": ["n=2"], "as": ["mode", "amp"]}], "mark": {"type": "line", "strokeWidth": 1, "clip": true},
   "encoding": {
    "x": {"field": "t", "type": "quantitative", "scale": {"domain": [2, 10], "nice": false, "zero": false}, "axis": {"values": [2, 3, 4, 5, 6, 7, 8, 9, 10], "title": null, "labels": false, "domain": false, "grid": true, "gridColor": "#dcdcf6", "tickColor": "#999", "tickSize": 3}},
    "y": {"field": "amp", "type": "quantitative", "scale": {"domain": [-0.003, 0.1505], "nice": false, "zero": false}, "axis": {"values": [0, 0.1], "format": ".1f", "title": null, "domain": false, "grid": true, "gridColor": "#dcdcf6", "tickColor": "#999", "tickSize": 3, "labelFont": "DejaVu Sans", "labelFontSize": 12, "labelColor": "#777", "labelPadding": 3, "labelFlush": false}},
    "color": {"field": "mode", "type": "nominal", "scale": {"range": ["#22e622"]}, "legend": {"orient": "top-right", "title": null, "symbolType": "stroke", "symbolStrokeWidth": 1.5, "symbolSize": 484, "labelFont": "DejaVu Sans", "labelFontSize": 12, "labelColor": "#666", "fillColor": "#ffffff", "strokeColor": "#d4d4d4", "padding": 5, "offset": 5, "cornerRadius": 3}}
   }},
  {"data": {"name": "vlines"}, "mark": {"type": "rule", "strokeWidth": 3, "strokeDash": [10, 6]}, "encoding": {"x": {"field": "t", "type": "quantitative"}, "stroke": {"field": "c", "type": "nominal", "scale": {"domain": ["b", "g", "r"], "range": ["#0a2bff", "#1fae4f", "#ff1a1a"]}, "legend": null}}}
 ]
 },
 {
 "width": 682, "height": 66,
 "view": {"stroke": "#999", "strokeWidth": 1.5},
 "layer": [
  {"data": {"name": "amp"}, "transform": [{"fold": ["n=3"], "as": ["mode", "amp"]}], "mark": {"type": "line", "strokeWidth": 1, "clip": true},
   "encoding": {
    "x": {"field": "t", "type": "quantitative", "scale": {"domain": [2, 10], "nice": false, "zero": false}, "axis": {"values": [2, 3, 4, 5, 6, 7, 8, 9, 10], "title": null, "labels": false, "domain": false, "grid": true, "gridColor": "#dcdcf6", "tickColor": "#999", "tickSize": 3}},
    "y": {"field": "amp", "type": "quantitative", "scale": {"domain": [-0.003, 0.1505], "nice": false, "zero": false}, "axis": {"values": [0, 0.1], "format": ".1f", "title": null, "domain": false, "grid": true, "gridColor": "#dcdcf6", "tickColor": "#999", "tickSize": 3, "labelFont": "DejaVu Sans", "labelFontSize": 12, "labelColor": "#777", "labelPadding": 3, "labelFlush": false}},
    "color": {"field": "mode", "type": "nominal", "scale": {"range": ["#1010c8"]}, "legend": {"orient": "top-right", "title": null, "symbolType": "stroke", "symbolStrokeWidth": 1.5, "symbolSize": 484, "labelFont": "DejaVu Sans", "labelFontSize": 12, "labelColor": "#666", "fillColor": "#ffffff", "strokeColor": "#d4d4d4", "padding": 5, "offset": 5, "cornerRadius": 3}}
   }},
  {"data": {"name": "vlines"}, "mark": {"type": "rule", "strokeWidth": 3, "strokeDash": [10, 6]}, "encoding": {"x": {"field": "t", "type": "quantitative"}, "stroke": {"field": "c", "type": "nominal", "scale": {"domain": ["b", "g", "r"], "range": ["#0a2bff", "#1fae4f", "#ff1a1a"]}, "legend": null}}},
  {"data": {"values": [{}]}, "mark": {"type": "text", "text": "A", "font": "DejaVu Sans", "fontSize": 31, "angle": 270, "align": "center", "baseline": "alphabetic", "color": "#000"}, "encoding": {"x": {"datum": 1.437}, "y": {"datum": -0.115}}},
  {"data": {"values": [{}]}, "mark": {"type": "text", "text": "mode,tor", "font": "DejaVu Sans", "fontSize": 19, "angle": 270, "align": "center", "baseline": "alphabetic", "color": "#000"}, "encoding": {"x": {"datum": 1.5073}, "y": {"datum": 0.02}}},
  {"data": {"values": [{}]}, "mark": {"type": "text", "text": "[a.u.]", "font": "DejaVu Sans", "fontSize": 28, "angle": 270, "align": "center", "baseline": "alphabetic", "color": "#000"}, "encoding": {"x": {"datum": 1.4018}, "y": {"datum": 0.2205}}}
 ]
 },
 {
 "width": 682, "height": 66,
 "view": {"stroke": "#999", "strokeWidth": 1.5},
 "layer": [
  {"data": {"name": "amp"}, "transform": [{"fold": ["n=4"], "as": ["mode", "amp"]}], "mark": {"type": "line", "strokeWidth": 1, "clip": true},
   "encoding": {
    "x": {"field": "t", "type": "quantitative", "scale": {"domain": [2, 10], "nice": false, "zero": false}, "axis": {"values": [2, 3, 4, 5, 6, 7, 8, 9, 10], "title": null, "labels": false, "domain": false, "grid": true, "gridColor": "#dcdcf6", "tickColor": "#999", "tickSize": 3}},
    "y": {"field": "amp", "type": "quantitative", "scale": {"domain": [-0.003, 0.1505], "nice": false, "zero": false}, "axis": {"values": [0, 0.1], "format": ".1f", "title": null, "domain": false, "grid": true, "gridColor": "#dcdcf6", "tickColor": "#999", "tickSize": 3, "labelFont": "DejaVu Sans", "labelFontSize": 12, "labelColor": "#777", "labelPadding": 3, "labelFlush": false}},
    "color": {"field": "mode", "type": "nominal", "scale": {"range": ["#ffaa22"]}, "legend": {"orient": "top-right", "title": null, "symbolType": "stroke", "symbolStrokeWidth": 1.5, "symbolSize": 484, "labelFont": "DejaVu Sans", "labelFontSize": 12, "labelColor": "#666", "fillColor": "#ffffff", "strokeColor": "#d4d4d4", "padding": 5, "offset": 5, "cornerRadius": 3}}
   }},
  {"data": {"name": "vlines"}, "mark": {"type": "rule", "strokeWidth": 3, "strokeDash": [10, 6]}, "encoding": {"x": {"field": "t", "type": "quantitative"}, "stroke": {"field": "c", "type": "nominal", "scale": {"domain": ["b", "g", "r"], "range": ["#0a2bff", "#1fae4f", "#ff1a1a"]}, "legend": null}}}
 ]
 },
 {
 "width": 682, "height": 66,
 "view": {"stroke": "#999", "strokeWidth": 1.5},
 "layer": [
  {"data": {"name": "amp"}, "transform": [{"fold": ["n=5"], "as": ["mode", "amp"]}], "mark": {"type": "line", "strokeWidth": 1, "clip": true},
   "encoding": {
    "x": {"field": "t", "type": "quantitative", "scale": {"domain": [2, 10], "nice": false, "zero": false}, "axis": {"values": [2, 3, 4, 5, 6, 7, 8, 9, 10], "format": "d", "title": "Time (sec)", "titleFont": "DejaVu Sans", "titleFontSize": 13, "titleFontWeight": "normal", "titleColor": "#666", "titlePadding": 3, "labels": true, "labelFont": "DejaVu Sans", "labelFontSize": 13, "labelColor": "#666", "labelPadding": 3, "labelFlush": false, "domain": false, "grid": true, "gridColor": "#dcdcf6", "tickColor": "#999", "tickSize": 3}},
    "y": {"field": "amp", "type": "quantitative", "scale": {"domain": [-0.003, 0.1505], "nice": false, "zero": false}, "axis": {"values": [0, 0.1], "format": ".1f", "title": null, "domain": false, "grid": true, "gridColor": "#dcdcf6", "tickColor": "#999", "tickSize": 3, "labelFont": "DejaVu Sans", "labelFontSize": 12, "labelColor": "#777", "labelPadding": 3, "labelFlush": false}},
    "color": {"field": "mode", "type": "nominal", "scale": {"range": ["#3a80b8"]}, "legend": {"orient": "top-right", "title": null, "symbolType": "stroke", "symbolStrokeWidth": 1.5, "symbolSize": 484, "labelFont": "DejaVu Sans", "labelFontSize": 12, "labelColor": "#666", "fillColor": "#ffffff", "strokeColor": "#d4d4d4", "padding": 5, "offset": 5, "cornerRadius": 3}}
   }},
  {"data": {"name": "vlines"}, "mark": {"type": "rule", "strokeWidth": 3, "strokeDash": [10, 6]}, "encoding": {"x": {"field": "t", "type": "quantitative"}, "stroke": {"field": "c", "type": "nominal", "scale": {"domain": ["b", "g", "r"], "range": ["#0a2bff", "#1fae4f", "#ff1a1a"]}, "legend": null}}}
 ]
 }
]
}
]
}
